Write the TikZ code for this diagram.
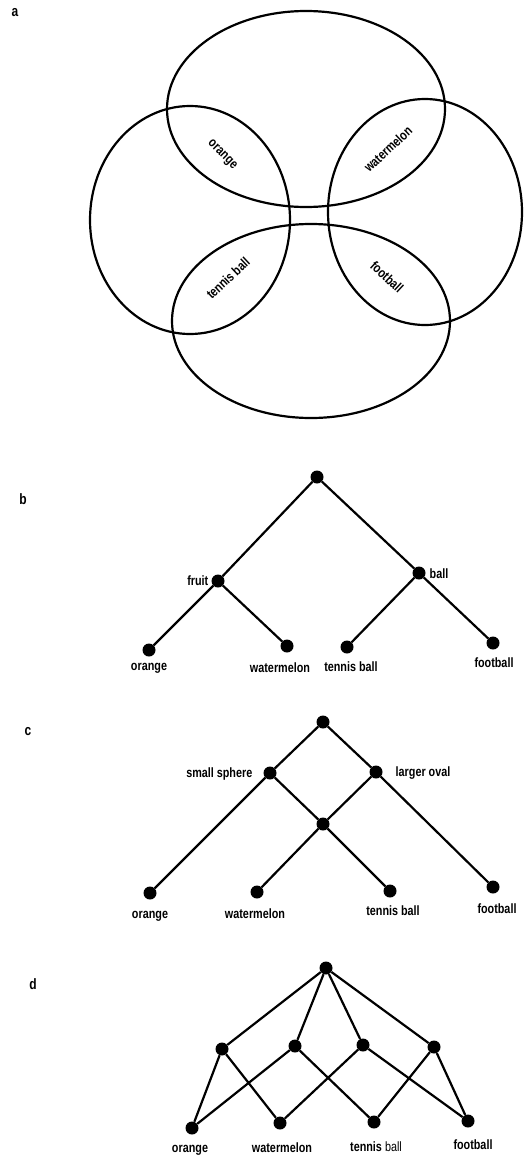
\documentclass[tikz,border=0pt]{standalone}
\usepackage{fontspec}
\newfontfamily\labfont[FakeStretch=0.8]{Liberation Sans}
\tikzset{
  dot/.style={circle, fill=black, inner sep=0pt, minimum size=13pt},
  lab/.style={font=\labfont\bfseries\fontsize{13.5}{14}\selectfont, inner sep=0.5pt},
  edge/.style={line width=2.2pt},
  ell/.style={line width=2.2pt},
  panel/.style={font=\labfont\bfseries\fontsize{15}{15}\selectfont, inner sep=0pt}
}
\begin{document}
\begin{tikzpicture}[x=1pt,y=-1pt]
\useasboundingbox (0,0) rectangle (523,1159);
% ---------- a ----------
\node[panel] (pa) at (15,13) {a};
\draw[ell] (306,109) ellipse [x radius=139pt, y radius=98pt];
\draw[ell] (311,321) ellipse [x radius=139pt, y radius=97pt];
\draw[ell] (190,220) ellipse [x radius=100pt, y radius=114pt];
\draw[ell] (425,212) ellipse [x radius=97pt, y radius=113pt];
\node[lab, rotate=-45] (la1) at (222,155) {orange};
\node[lab, rotate=43] (la2) at (388,149) {watermelon};
\node[lab, rotate=43] (la3) at (228,278) {tennis ball};
\node[lab, rotate=-43] (la4) at (387,277) {football};
% ---------- b ----------
\node[panel] (pb) at (23,499) {b};
\node[dot] (br) at (317,477) {};
\node[dot] (bf) at (218,581) {};
\node[dot] (bb) at (419,573) {};
\node[dot] (b1) at (149,650) {};
\node[dot] (b2) at (287,646) {};
\node[dot] (b3) at (347,647) {};
\node[dot] (b4) at (493,643) {};
\draw[edge] (br) -- (bf) (br) -- (bb) (bf) -- (b1) (bf) -- (b2) (bb) -- (b3) (bb) -- (b4);
\node[lab, anchor=east] (lbf) at (209,581) {fruit};
\node[lab, anchor=west] (lbb) at (429,574) {ball};
\node[lab] (lb1) at (149,668) {orange};
\node[lab] (lb2) at (280,668) {watermelon};
\node[lab] (lb3) at (351,667) {tennis ball};
\node[lab] (lb4) at (494,663) {football};
% ---------- c ----------
\node[panel] (pc) at (28,732) {c};
\node[dot] (cr) at (323,722) {};
\node[dot] (cs) at (270,773) {};
\node[dot] (co) at (376,772) {};
\node[dot] (cm) at (323,824) {};
\node[dot] (c1) at (150,893) {};
\node[dot] (c2) at (257,892) {};
\node[dot] (c3) at (390,891) {};
\node[dot] (c4) at (493,887) {};
\draw[edge] (cr) -- (cs) (cr) -- (co) (cs) -- (c1) (cs) -- (cm) (co) -- (cm) (co) -- (c4) (cm) -- (c2) (cm) -- (c3);
\node[lab, anchor=east] (lcs) at (253,774) {small sphere};
\node[lab, anchor=west] (lco) at (395,773) {larger oval};
\node[lab] (lc1) at (150,916) {orange};
\node[lab] (lc2) at (255,914) {watermelon};
\node[lab] (lc3) at (393,911) {tennis ball};
\node[lab] (lc4) at (497,909) {football};
% ---------- d ----------
\node[panel] (pd) at (33,984) {d};
\node[dot] (dr) at (326,968) {};
\node[dot] (m1) at (222,1049) {};
\node[dot] (m2) at (295,1046) {};
\node[dot] (m3) at (363,1045) {};
\node[dot] (m4) at (434,1047) {};
\node[dot] (d1) at (192,1128) {};
\node[dot] (d2) at (280,1123) {};
\node[dot] (d3) at (374,1122) {};
\node[dot] (d4) at (468,1121) {};
\draw[edge] (dr) -- (m1) (dr) -- (m2) (dr) -- (m3) (dr) -- (m4)
  (m1) -- (d1) (m1) -- (d2) (m2) -- (d1) (m2) -- (d3)
  (m3) -- (d2) (m3) -- (d4) (m4) -- (d3) (m4) -- (d4);
\node[lab] (ld1) at (190,1150) {orange};
\node[lab] (ld2) at (282,1148) {watermelon};
\node[lab] (ld3) at (376,1147) {tennis \mdseries ball};
\node[lab] (ld4) at (473,1145) {football};
\end{tikzpicture}
\end{document}
